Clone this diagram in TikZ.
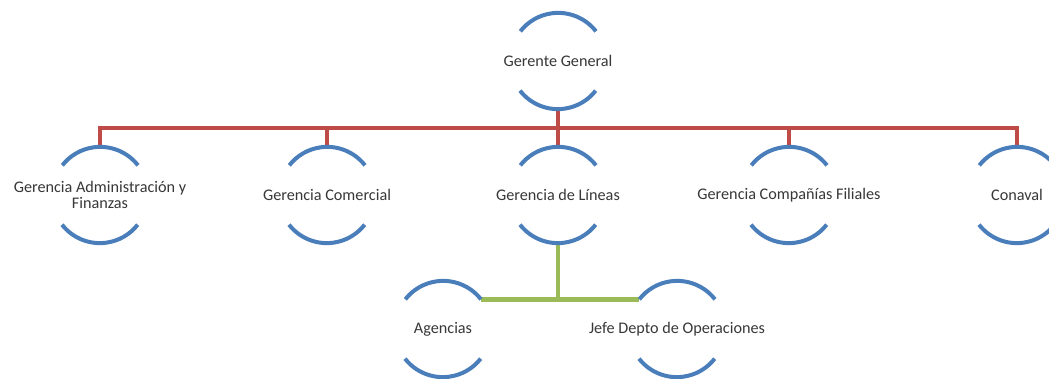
\documentclass[tikz,border=0pt]{standalone}
\usepackage{fontspec}
\setmainfont{Carlito}
\begin{document}
\begin{tikzpicture}[x=1pt,y=1pt,
  ring/.style={circle,minimum size=96pt,inner sep=0pt,draw=none},
  txt/.style={font=\fontsize{16.2}{16}\selectfont,text=black!78,align=center,inner sep=0pt},
  arcline/.style={draw=arcblue,line width=4pt},
  redline/.style={draw=linered,line width=4pt},
  greenline/.style={draw=linegreen,line width=4.5pt}]
\definecolor{arcblue}{HTML}{4A7EBB}
\definecolor{linered}{HTML}{BE4B48}
\definecolor{linegreen}{HTML}{9BBB59}
\clip (0,0) rectangle (1049,378);
\fill[white] (0,0) rectangle (1049,378);
% nodes
\node[ring] (gg) at (558,317) {};
\node[ring] (adm) at (100,183) {};
\node[ring] (com) at (327,183) {};
\node[ring] (lin) at (558,183) {};
\node[ring] (fil) at (789,183) {};
\node[ring] (con) at (1017,183) {};
\node[ring] (ag) at (443,49) {};
\node[ring] (jf) at (677,49) {};
\coordinate (bus) at (0,250);
% connectors
\draw[redline] (adm.north) |- (con.north |- bus) -- (con.north);
\draw[redline] (gg.south) -- (gg.south |- bus);
\foreach \n in {com,lin,fil} \draw[redline] (\n.north) -- (\n.north |- bus);
\draw[greenline] (ag.38) -- (jf.142);
\draw[greenline] (lin.south) -- (lin.south |- ag.38);
% arcs
\foreach \n in {gg,adm,com,lin,fil,con,ag,jf}{
  \draw[arcline] (\n.38) arc (38:142:48);
  \draw[arcline] (\n.218) arc (218:322:48);
}
% texts
\node[txt] (tgg) at (gg) {Gerente General};
\node[txt] (tadm) at (adm) {Gerencia Administración y\\Finanzas};
\node[txt] (tcom) at (com) {Gerencia Comercial};
\node[txt] (tlin) at (lin) {Gerencia de Líneas};
\node[txt] (tfil) at (fil) {Gerencia Compañías Filiales};
\node[txt] (tcon) at (con) {Conaval};
\node[txt] (tag) at (ag) {Agencias};
\node[txt] (tjf) at (jf) {Jefe Depto de Operaciones};
\end{tikzpicture}
\end{document}
